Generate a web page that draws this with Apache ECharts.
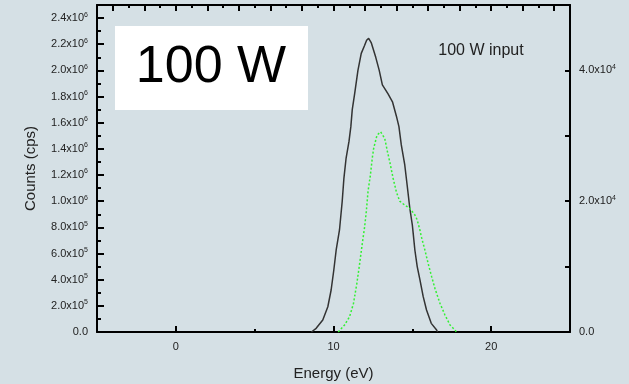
<!DOCTYPE html>
<html>
<head>
<meta charset="utf-8">
<script src="https://cdn.jsdelivr.net/npm/echarts@6/dist/echarts.min.js"></script>
<style>
html,body{margin:0;padding:0;background:#d5e0e5;}
#c{width:629px;height:384px;}
</style>
</head>
<body>
<div id="c"></div>
<script>
// Black curve (left axis, counts in cps)
const blackEnergy = [8.6, 8.9, 9.32, 9.64, 9.85, 10.02, 10.17, 10.38, 10.45, 10.55, 10.66, 10.8, 10.98, 11.1, 11.19, 11.34, 11.55, 11.76, 11.97, 12.1, 12.23, 12.32, 12.4, 12.68, 12.9, 13.1, 13.46, 13.74, 13.99, 14.15, 14.3, 14.52, 14.67, 14.84, 15.0, 15.05, 15.16, 15.31, 15.48, 15.69, 15.9, 16.2, 16.54, 16.6];
const blackCounts = [0, 28000, 92000, 193000, 321000, 474000, 627000, 780000, 870000, 996000, 1175000, 1330000, 1455000, 1570000, 1700000, 1820000, 2000000, 2130000, 2190000, 2230000, 2245000, 2235000, 2210000, 2100000, 2000000, 1890000, 1820000, 1760000, 1650000, 1570000, 1430000, 1277000, 1124000, 946000, 818000, 760000, 627000, 500000, 400000, 270000, 168000, 66000, 15000, 0];
// Green curve (right axis)
const greenEnergy = [10.3, 10.38, 10.7, 11.02, 11.27, 11.48, 11.66, 11.83, 11.97, 12.08, 12.19, 12.34, 12.46, 12.55, 12.76, 12.99, 13.25, 13.42, 13.57, 13.78, 13.99, 14.2, 14.52, 14.84, 15.16, 15.3, 15.48, 15.58, 15.8, 16.0, 16.22, 16.43, 16.75, 17.07, 17.39, 17.71, 17.8];
const greenCounts = [0, 200, 1070, 2340, 4400, 7400, 10500, 13600, 16000, 18400, 21500, 24000, 26600, 28100, 30100, 30600, 29600, 27600, 26000, 23500, 21400, 20000, 19400, 18900, 17900, 17200, 15600, 14500, 12500, 10500, 8500, 6700, 4400, 2600, 1070, 300, 0];

// Tick values
const xLabelTicks = [0, 10, 20];
const xMinorTicks = [5, 15];
const topMajorTicks = [-4, -2, 0, 2, 4, 6, 8, 10, 12, 14, 16, 18, 20, 22, 24];
const topMinorTicks = [-3, -1, 1, 3, 5, 7, 9, 11, 13, 15, 17, 19, 21, 23];
const leftMajorTicks = [0, 200000, 400000, 600000, 800000, 1000000, 1200000, 1400000, 1600000, 1800000, 2000000, 2200000, 2400000];
const leftMinorTicks = [100000, 300000, 500000, 700000, 900000, 1100000, 1300000, 1500000, 1700000, 1900000, 2100000, 2300000];
const rightTicks = [10000, 20000, 30000, 40000];
const rightLabels = [0, 20000, 40000];

function sciFmt(v) {
  if (v === 0) return '{b|0.0}';
  const e = Math.floor(Math.log10(v) + 1e-9);
  const m = (v / Math.pow(10, e)).toFixed(1);
  return '{b|' + m + 'x10}{s|' + e + '}';
}
const rich = {
  b: {fontSize: 11, color: '#222', fontFamily: 'Liberation Sans, Arial'},
  s: {fontSize: 7, color: '#222', fontFamily: 'Liberation Sans, Arial', padding: [0, 0, 7, 0]}
};

const blackData = blackEnergy.map((e, i) => [e, blackCounts[i]]);
const greenData = greenEnergy.map((e, i) => [e, greenCounts[i]]);

const chart = echarts.init(document.getElementById('c'), null, {renderer: 'canvas'});
const lineBlack = {show: true, onZero: false, lineStyle: {color: '#000', width: 2}};
const noLine = {show: false, onZero: false};
chart.setOption({
  backgroundColor: '#d5e0e5',
  animation: false,
  textStyle: {fontFamily: 'Liberation Sans, Arial'},
  grid: {left: 97, right: 59, top: 5, bottom: 52, containLabel: false, outerBoundsMode: 'none'},
  xAxis: [
    {type: 'value', position: 'bottom', min: -5, max: 25, axisLine: lineBlack,
     axisTick: {show: true, inside: true, length: 6, customValues: xLabelTicks, lineStyle: {color: '#000', width: 2}},
     axisLabel: {customValues: xLabelTicks, fontSize: 11, color: '#222', margin: 9},
     splitLine: {show: false},
     name: 'Energy (eV)', nameLocation: 'middle', nameGap: 34, nameTextStyle: {fontSize: 15, color: '#222'}},
    {type: 'value', position: 'bottom', min: -5, max: 25, axisLine: noLine,
     axisTick: {show: true, inside: true, length: 3, customValues: xMinorTicks, lineStyle: {color: '#000', width: 2}},
     axisLabel: {show: false}, splitLine: {show: false}},
    {type: 'value', position: 'top', min: -5, max: 25, axisLine: lineBlack,
     axisTick: {show: true, inside: true, length: 6, customValues: topMajorTicks, lineStyle: {color: '#000', width: 2}},
     axisLabel: {show: false}, splitLine: {show: false}},
    {type: 'value', position: 'top', min: -5, max: 25, axisLine: noLine,
     axisTick: {show: true, inside: true, length: 3, customValues: topMinorTicks, lineStyle: {color: '#000', width: 2}},
     axisLabel: {show: false}, splitLine: {show: false}}
  ],
  yAxis: [
    {type: 'value', position: 'left', min: 0, max: 2500000, axisLine: lineBlack,
     axisTick: {show: true, inside: true, length: 7, customValues: leftMajorTicks, lineStyle: {color: '#000', width: 2}},
     axisLabel: {customValues: leftMajorTicks, formatter: sciFmt, rich: rich, margin: 9},
     splitLine: {show: false},
     name: 'Counts (cps)', nameLocation: 'middle', nameGap: 59, nameRotate: 90, nameTextStyle: {fontSize: 15, color: '#222'}},
    {type: 'value', position: 'left', min: 0, max: 2500000, axisLine: noLine,
     axisTick: {show: true, inside: true, length: 4, customValues: leftMinorTicks, lineStyle: {color: '#000', width: 2}},
     axisLabel: {show: false}, splitLine: {show: false}},
    {type: 'value', position: 'right', min: 0, max: 50000, axisLine: lineBlack,
     axisTick: {show: true, inside: true, length: 5, customValues: rightTicks, lineStyle: {color: '#000', width: 2}},
     axisLabel: {customValues: rightLabels, formatter: sciFmt, rich: rich, margin: 9},
     splitLine: {show: false}}
  ],
  series: [
    {type: 'line', xAxisIndex: 0, yAxisIndex: 0, data: blackData, showSymbol: false, symbol: 'none',
     lineStyle: {color: '#333', width: 1.5}},
    {type: 'line', xAxisIndex: 0, yAxisIndex: 2, data: greenData, showSymbol: false, symbol: 'none',
     lineStyle: {color: '#33f033', width: 1.5, type: [2, 2]}}
  ],
  graphic: [
    {type: 'rect', left: 115, top: 26, shape: {width: 193, height: 84}, style: {fill: '#fff'}, z: 10},
    {type: 'text', x: 211, y: 68, style: {text: '100 W', fontSize: 52, fill: '#000', align: 'center', verticalAlign: 'middle', fontFamily: 'Liberation Sans, Arial'}, z: 11},
    {type: 'text', x: 481, y: 51, style: {text: '100 W input', fontSize: 16, fill: '#222', align: 'center', verticalAlign: 'middle', fontFamily: 'Liberation Sans, Arial'}, z: 11}
  ]
});
</script>
</body>
</html>
